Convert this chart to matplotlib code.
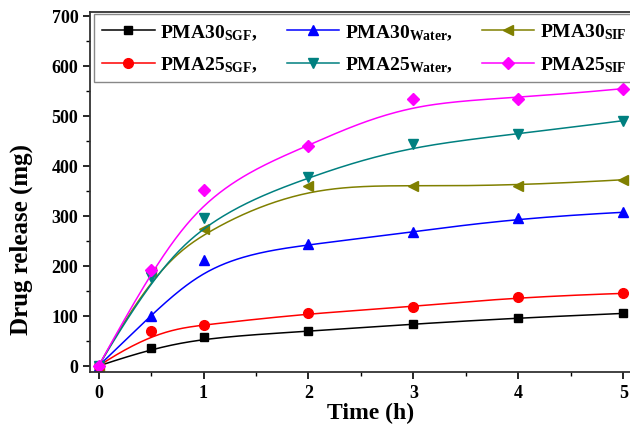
import matplotlib
matplotlib.use("Agg")
import matplotlib.pyplot as plt
import numpy as np

plt.rcParams['font.family'] = ['Liberation Serif', 'DejaVu Serif']
plt.rcParams['font.weight'] = 'bold'
plt.rcParams['mathtext.fontset'] = 'custom'
plt.rcParams['mathtext.default'] = 'bf'
plt.rcParams['mathtext.bf'] = 'Liberation Serif:bold'
plt.rcParams['mathtext.rm'] = 'Liberation Serif:bold'

# sampling times (h)
time_h = [0, 0.5, 1, 2, 3, 4, 5]

# drug release (mg)
pma30_sgf = [0, 35, 57, 69, 84, 96, 105]
pma30_water = [0, 100, 211, 243, 267, 296, 307]
pma30_sif = [0, 187, 273, 360, 360, 360, 372]
pma25_sgf = [0, 69, 82, 105, 118, 138, 145]
pma25_water = [0, 177, 295, 378, 444, 463, 490]
pma25_sif = [0, 191, 352, 440, 534, 534, 554]


def bspline(xs, ys, n=200, k=3):
    # clamped B-spline with the data as control points (Origin style line)
    pts = np.column_stack([xs, ys]).astype(float)
    m = len(pts)
    inner = np.arange(1, m - k)
    knots = np.concatenate([np.zeros(k + 1), inner, np.full(k + 1, m - k)])
    u = np.linspace(0, m - k, n)
    u[-1] -= 1e-9

    def basis(i, p, t):
        if p == 0:
            return ((knots[i] <= t) & (t < knots[i + 1])).astype(float)
        out = np.zeros_like(t)
        d1 = knots[i + p] - knots[i]
        d2 = knots[i + p + 1] - knots[i + 1]
        if d1 > 0:
            out += (t - knots[i]) / d1 * basis(i, p - 1, t)
        if d2 > 0:
            out += (knots[i + p + 1] - t) / d2 * basis(i + 1, p - 1, t)
        return out

    curve = np.zeros((n, 2))
    for i in range(m):
        curve += basis(i, k, u)[:, None] * pts[i]
    return curve[:, 0], curve[:, 1]


series = [
    (pma30_sgf, 'black', 's', 6, r'PMA30$_{SGF}$,'),
    (pma30_water, 'blue', '^', 7, r'PMA30$_{Water}$,'),
    (pma30_sif, '#808000', '<', 7, r'PMA30$_{SIF}$'),
    (pma25_sgf, 'red', 'o', 7, r'PMA25$_{SGF}$,'),
    (pma25_water, '#008080', 'v', 7, r'PMA25$_{Water}$,'),
    (pma25_sif, '#FF00FF', 'D', 6, r'PMA25$_{SIF}$'),
]

fig = plt.figure(figsize=(6.3, 4.27), dpi=100)
ax = fig.add_axes([0.143, 0.1265, 0.889, 0.843])

handles = {}
for vals, col, mk, ms, lab in series:
    cx, cy = bspline(time_h, vals)
    ax.plot(cx, cy, color=col, lw=1.1)
    ax.plot(time_h, vals, ls='none', marker=mk, ms=ms, color=col)
    h, = ax.plot([], [], color=col, lw=1.1, marker=mk, ms=ms, label=lab)
    handles[lab] = h

# legend fills column-first, so reorder to read row-wise
order = [0, 3, 1, 4, 2, 5]
hs = [handles[series[i][4]] for i in order]
leg = ax.legend(handles=hs, ncol=3, loc='upper left', bbox_to_anchor=(0.004, 1.0),
                fontsize=14, handlelength=2.7, handletextpad=0.3, columnspacing=1.5,
                fancybox=False, edgecolor='#888888', framealpha=1, borderaxespad=0.1,
                labelspacing=0.68, borderpad=0.4)
leg.get_frame().set_linewidth(1.0)

ax.set_xlim(-0.081, 5.257)
ax.set_ylim(-12, 707)
ax.set_xticks(range(0, 6))
ax.set_xticks(np.arange(0.5, 5.5, 1), minor=True)
ax.set_yticks(range(0, 701, 100))
ax.set_yticks(range(50, 701, 100), minor=True)
ax.tick_params(which='major', direction='out', length=5, width=1.2, labelsize=13)
ax.tick_params(which='minor', direction='out', length=3, width=1.0)
for lbl in ax.get_xticklabels() + ax.get_yticklabels():
    lbl.set_fontweight('bold')
for s in ax.spines.values():
    s.set_linewidth(1.3)
    s.set_color('#333333')

ax.set_xlabel('Time (h)', fontsize=17, fontweight='bold', labelpad=1)
ax.set_ylabel('Drug release (mg)', fontsize=18, fontweight='bold')
ax.yaxis.set_label_coords(-0.102, 0.37)

fig.savefig('out.png', dpi=100)
